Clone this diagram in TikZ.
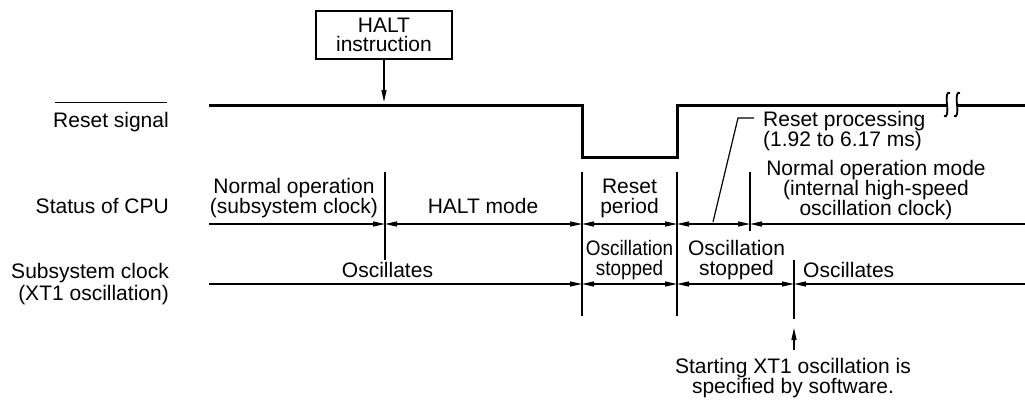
\documentclass[tikz,border=0pt]{standalone}
\usepackage{fontspec}
\setmainfont{Liberation Sans}
\usetikzlibrary{arrows.meta}
\begin{document}
\begin{tikzpicture}[x=1pt,y=-1pt,
  txt/.style={font=\fontsize{21}{20}\selectfont, inner sep=0pt},
  narrowtxt/.style={font=\fontsize{21}{20}\selectfont\addfontfeature{FakeStretch=0.9}, inner sep=0pt},
  thinline/.style={line width=1.2pt},
  sig/.style={line width=3pt, line join=miter},
  brk/.style={line width=1.8pt},
  >={Triangle[length=12pt,width=5pt]}]
\fill[white] (0,0) rectangle (1025,400);
\useasboundingbox (0,0) rectangle (1025,400);

% left labels
\node[txt, anchor=base east] (rs) at (169,127) {Reset signal};
\draw[thinline] ([xshift=2pt,yshift=9pt]rs.north west) -- ([xshift=-2pt,yshift=9pt]rs.north east);
\node[txt, anchor=base east] (cpu) at (169,213) {Status of CPU};
\node[txt, anchor=base east, align=right] (sub) at (169,300) {Subsystem clock\\[2pt](XT1 oscillation)};

% HALT instruction
\node[draw, thinline, minimum width=136pt, minimum height=48pt, inner sep=0pt,
      font=\fontsize{21}{19}\selectfont, align=center] (halt) at (384,35) {HALT\\instruction};
\coordinate (haltend) at (384,102);
\draw[thinline,->] (halt.south) -- (haltend);

% reset signal
\coordinate (s0) at (209,105);
\coordinate (s1) at (582,105);
\coordinate (s2) at (582,157);
\coordinate (s3) at (677,157);
\coordinate (s4) at (677,105);
\coordinate (s5) at (947,105);
\coordinate (s6) at (957,105);
\coordinate (s7) at (1025,105);
\draw[sig] (s0) -- (s1) -- (s2) -- (s3) -- (s4) -- (s5);
\draw[sig] (s6) -- (s7);
\draw[brk] (950,93) .. controls (947,91) and (946,96) .. (947,104.5) .. controls (948,113) and (947,118) .. (944,116);
\draw[brk] (960,93) .. controls (957,91) and (956,96) .. (957,104.5) .. controls (958,113) and (957,118) .. (954,116);

% ticks
\coordinate (t1a) at (385,172); \coordinate (t1b) at (385,260);
\coordinate (t2a) at (582,172); \coordinate (t2b) at (582,316);
\coordinate (t3a) at (677,172); \coordinate (t3b) at (677,316);
\coordinate (t4a) at (750,172); \coordinate (t4b) at (750,231);
\coordinate (t5a) at (794,260); \coordinate (t5b) at (794,319);
\draw[thinline] (t1a) -- (t1b);
\draw[thinline] (t2a) -- (t2b);
\draw[thinline] (t3a) -- (t3b);
\draw[thinline] (t4a) -- (t4b);
\draw[thinline] (t5a) -- (t5b);

% CPU row
\coordinate (c0) at (209,224);
\coordinate (c1) at (385,224);
\coordinate (c2) at (582,224);
\coordinate (c3) at (677,224);
\coordinate (c4) at (750,224);
\coordinate (c5) at (1025,224);
\draw[thinline,->] (c0) -- (c1);
\draw[thinline,<->] (c1) -- (c2);
\draw[thinline,<->] (c2) -- (c3);
\draw[thinline,<->] (c3) -- (c4);
\draw[thinline,<-] (c4) -- (c5);

% clock row
\coordinate (k0) at (209,284);
\coordinate (k2) at (582,284);
\coordinate (k3) at (677,284);
\coordinate (k5) at (794,284);
\coordinate (k6) at (1025,284);
\draw[thinline,->] (k0) -- (k2);
\draw[thinline,<->] (k2) -- (k3);
\draw[thinline,<->] (k3) -- (k5);
\draw[thinline,<-] (k5) -- (k6);

% reset processing leader
\coordinate (rp0) at (713,222);
\coordinate (rp1) at (738,118);
\coordinate (rp2) at (754,118);
\draw[thinline] (rp0) -- (rp1) -- (rp2);
\node[txt, anchor=base west, align=left] (rptxt) at (763,146) {Reset processing\\(1.92 to 6.17 ms)};

% CPU texts
\node[txt, anchor=base, align=center] (normsub) at (294,213) {Normal operation\\(subsystem clock)};
\node[txt, anchor=base] (haltmode) at (483,213) {HALT mode};
\node[txt, anchor=base, align=center] (resetper) at (629.5,213) {Reset\\period};
\node[txt, anchor=base, align=center] (normhs) at (876,215) {Normal operation mode\\(internal high-speed\\oscillation clock)};

% clock texts
\node[txt, anchor=base] (osc1) at (387.5,277) {Oscillates};
\node[narrowtxt, anchor=base, align=center] (stop1) at (629.5,275) {Oscillation\\stopped};
\node[txt, anchor=base, align=center] (stop2) at (736.5,275) {Oscillation\\stopped};
\node[txt, anchor=base west] (osc2) at (803,277) {Oscillates};

% starting XT1
\coordinate (upend) at (794,328);
\node[txt, anchor=base, align=center] (start) at (793,393) {Starting XT1 oscillation is\\specified by software.};
\coordinate (upstart) at (794,350);
\draw[thinline,->] (upstart) -- (upend);
\end{tikzpicture}
\end{document}
